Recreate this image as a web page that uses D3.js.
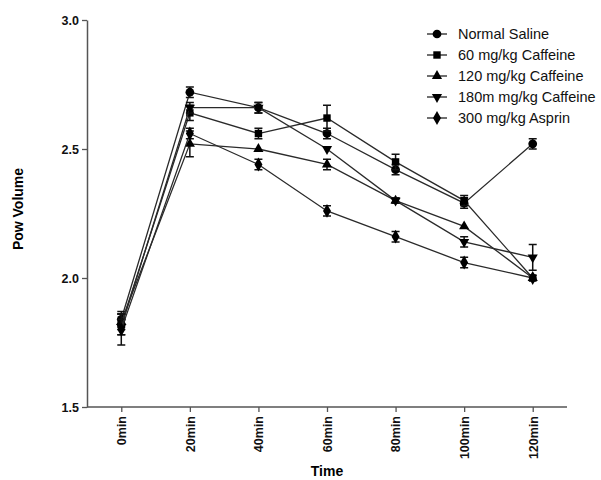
<!DOCTYPE html>
<html>
<head>
<meta charset="utf-8">
<script src="https://cdn.jsdelivr.net/npm/d3@7"></script>
<style>
  body { margin: 0; background: #fff; }
  text { font-family: "Liberation Sans", Arial, sans-serif; }
</style>
</head>
<body>
<svg id="chart"></svg>
<script>
// data
var times = ["0min", "20min", "40min", "60min", "80min", "100min", "120min"];
var seriesNames = ["Normal Saline", "60 mg/kg Caffeine", "120 mg/kg Caffeine", "180m mg/kg Caffeine", "300 mg/kg Asprin"];
var saline    = [1.84, 2.72, 2.66, 2.56, 2.42, 2.29, 2.52];
var caf60     = [1.82, 2.64, 2.56, 2.62, 2.45, 2.30, 2.00];
var caf120    = [1.83, 2.52, 2.50, 2.44, 2.30, 2.20, 2.00];
var caf180    = [1.81, 2.66, 2.66, 2.50, 2.30, 2.14, 2.08];
var asprin    = [1.80, 2.56, 2.44, 2.26, 2.16, 2.06, 2.00];
var salineErr = [0.03, 0.02, 0.02, 0.02, 0.02, 0.02, 0.02];
var caf60Err  = [0.04, 0.03, 0.02, 0.05, 0.03, 0.02, 0.01];
var caf120Err = [0.03, 0.05, 0.00, 0.02, 0.01, 0.00, 0.00];
var caf180Err = [0.03, 0.02, 0.02, 0.00, 0.01, 0.02, 0.05];
var asprinErr = [0.06, 0.02, 0.02, 0.02, 0.02, 0.02, 0.00];
var yTicks = [1.5, 2.0, 2.5, 3.0];

var W = 601, H = 480;
var svg = d3.select("#chart").attr("width", W).attr("height", H);

var x = d3.scalePoint().domain(times).range([87, 567]).padding(0.5);
var y = d3.scaleLinear().domain([1.5, 3.0]).range([407, 20]);

var symbols = [d3.symbolCircle, d3.symbolSquare, d3.symbolTriangle, d3.symbolTriangle, d3.symbolDiamond];
var sizes = [60, 55, 45, 45, 55];
var rot = [0, 0, 0, 180, 0];

var all = [saline, caf60, caf120, caf180, asprin];
var errs = [salineErr, caf60Err, caf120Err, caf180Err, asprinErr];

// axes
var gY = svg.append("g")
    .attr("transform", "translate(87,0)")
    .call(d3.axisLeft(y).tickValues(yTicks).tickFormat(d3.format(".1f")).tickSize(5).tickSizeOuter(0));
var gX = svg.append("g")
    .attr("transform", "translate(0,407)")
    .call(d3.axisBottom(x).tickSize(5).tickSizeOuter(0));
[gY, gX].forEach(function (g) {
    g.select(".domain").attr("stroke", "#555").attr("stroke-width", 1.5);
    g.selectAll(".tick line").attr("stroke", "#555").attr("stroke-width", 1.3);
    g.selectAll("text").attr("font-size", 12.5).attr("font-weight", "bold").attr("fill", "#111")
        .style("font-family", "'Liberation Sans', Arial, sans-serif");
});
gX.select(".domain").attr("d", "M87,0H567");
gX.selectAll(".tick text")
    .attr("transform", "rotate(-90)")
    .attr("text-anchor", "end")
    .attr("x", -9).attr("y", 0).attr("dy", "0.35em");

svg.append("text").attr("x", 327).attr("y", 476).attr("text-anchor", "middle")
    .attr("font-size", 14).attr("font-weight", "bold").text("Time");
svg.append("text").attr("transform", "translate(23,209) rotate(-90)").attr("text-anchor", "middle")
    .attr("font-size", 14).attr("font-weight", "bold").text("Pow Volume");

var line = d3.line().x(function (d, i) { return x(times[i]); }).y(function (d) { return y(d); });

all.forEach(function (vals, s) {
    var g = svg.append("g");
    g.append("path").attr("d", line(vals)).attr("fill", "none").attr("stroke", "#2a2a2a").attr("stroke-width", 1.3);
    vals.forEach(function (v, i) {
        var e = errs[s][i];
        var cx = x(times[i]);
        if (e > 0) {
            g.append("path")
                .attr("d", "M" + cx + "," + y(v + e) + "V" + y(v - e) +
                    "M" + (cx - 4) + "," + y(v + e) + "H" + (cx + 4) +
                    "M" + (cx - 4) + "," + y(v - e) + "H" + (cx + 4))
                .attr("stroke", "#111").attr("stroke-width", 1.5).attr("fill", "none");
        }
        g.append("path")
            .attr("d", d3.symbol().type(symbols[s]).size(sizes[s])())
            .attr("transform", "translate(" + cx + "," + y(v) + ") rotate(" + rot[s] + ")")
            .attr("fill", "#000");
    });
});

// legend
var leg = svg.append("g");
seriesNames.forEach(function (name, s) {
    var ly = 34 + s * 21;
    leg.append("line").attr("x1", 427).attr("x2", 447).attr("y1", ly).attr("y2", ly)
        .attr("stroke", "#222").attr("stroke-width", 1.3);
    leg.append("path")
        .attr("d", d3.symbol().type(symbols[s]).size(sizes[s])())
        .attr("transform", "translate(437," + ly + ") rotate(" + rot[s] + ")")
        .attr("fill", "#000");
    leg.append("text").attr("x", 458).attr("y", ly).attr("dy", "0.35em")
        .attr("font-size", 14.5).attr("fill", "#111").text(name);
});
</script>
</body>
</html>
